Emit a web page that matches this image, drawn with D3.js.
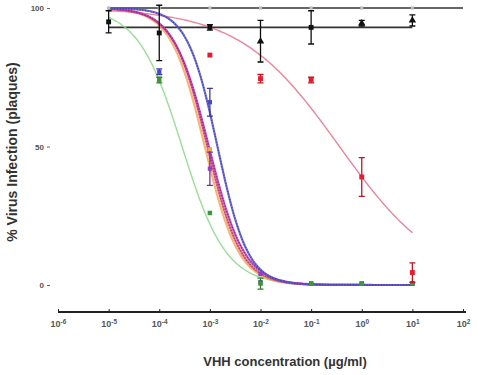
<html>
<head>
<meta charset="utf-8" />
<script src="https://d3js.org/d3.v7.min.js"></script>
<style>
    body { margin: 0; background: #fff; font-family: Arial, "Liberation Sans", sans-serif; }
    .axis text { font-weight: bold; fill: #555; }
</style>
</head>
<body>
<svg id="chart" width="477" height="375"></svg>
<script>
    // concentrations (ug/ml) of the dilution series
    const conc = [1e-5, 1e-4, 1e-3, 1e-2, 1e-1, 1, 10]
    const xTicks = [-6, -5, -4, -3, -2, -1, 0, 1, 2]
    const yTicks = [0, 50, 100]

    // measured % infection per series (null = no visible marker)
    const redVals = [null, null, 83, 74.5, 74, 39, 4.5]
    const redErr = [0, 0, 0, 1.5, 1, 7, 3.5]
    const greenVals = [null, 74, 26, 0.5, 0.5, 0.5, 0.5]
    const greenErr = [0, 1, 0, 2, 0, 0, 0]
    const blueVals = [null, 77, 66, 1, 0.5, 0.5, 0.5]
    const blueErr = [0, 1, 5, 0, 0, 0, 0]
    const purpleVals = [null, null, 42, 4, 0.5, 0.5, 0.5]
    const purpleErr = [0, 0, 6, 0, 0, 0, 0]
    const orangeVals = [null, null, 49, 1, 0.5, 0.5, 0.5]
    const blackSqVals = [95, 91, 93, null, 93, null, null]
    const blackSqErr = [4, 10, 1, 0, 6, 0, 0]
    const blackTriVals = [null, null, null, 88, null, 94.5, 95.5]
    const blackTriErr = [0, 0, 0, 7.5, 0, 1, 2]
    const topVals = [100, 100, 100, 100, 100, 100, 100]

    // fitted curves: [top, bottom, logEC50, hill, logStart, logEnd]
    const redFit = [100, 0, -0.44, 0.44, -5, 1]
    const greenFit = [100, 0, -3.55, 1.0, -5, 1]
    const blueFit = [100, 0, -2.85, 1.45, -5, 1]
    const purpleFit = [100, 0, -3.02, 1.25, -5, 1]
    const pinkFit = [100, 0, -3.05, 1.3, -5, 1]
    const orangeFit = [100, 0, -3.1, 1.3, -5, 1]
    const flatFits = [[100, -5, 2], [93, -5, 1]]

    const svg = d3.select("svg#chart")
    const x = d3.scaleLog().domain([1e-6, 1e2]).range([58, 463])
    const y = d3.scaleLinear().domain([0, 100]).range([285, 8])

    // x axis
    const xAxis = svg.append("g").attr("class", "axis")
        .attr("transform", "translate(0,312)")
        .call(d3.axisBottom(x).tickValues(xTicks.map(d => Math.pow(10, d)))
            .tickSize(-3).tickSizeOuter(0).tickFormat(""))
    xAxis.select(".domain").attr("stroke", "#222").attr("stroke-width", 2)
        .attr("d", "M58,0H466")
    xAxis.selectAll(".tick line").attr("stroke", "#222")
    xAxis.selectAll(".tick").append("text")
        .attr("y", 15).attr("fill", "#444").attr("text-anchor", "middle")
        .style("font-size", "9px")
        .each(function (d) {
            const t = d3.select(this)
            t.append("tspan").text("10")
            t.append("tspan").attr("dy", -3).style("font-size", "6.5px")
                .text(Math.round(Math.log10(d)))
        })

    // y axis
    const yAxis = svg.append("g").attr("class", "axis")
        .attr("transform", "translate(50,0)")
        .call(d3.axisLeft(y).tickValues(yTicks).tickSize(3))
    yAxis.select(".domain").remove()
    yAxis.selectAll(".tick line").attr("stroke", "#666")
    yAxis.selectAll(".tick text").style("font-size", "8px")

    // titles
    svg.append("text").attr("x", 285).attr("y", 366)
        .attr("text-anchor", "middle").style("font-size", "13px").style("font-weight", "bold")
        .attr("fill", "#333").text("VHH concentration (µg/ml)")
    svg.append("text").attr("transform", "translate(17,152) rotate(-90)")
        .attr("text-anchor", "middle").style("font-size", "14px").style("font-weight", "bold")
        .attr("fill", "#333").text("% Virus Infection (plaques)")

    const plot = svg.append("g")

    // flat fits (black)
    plot.selectAll("line.flat").data(flatFits).join("line").attr("class", "flat")
        .attr("x1", d => x(Math.pow(10, d[1]))).attr("x2", d => x(Math.pow(10, d[2])))
        .attr("y1", d => y(d[0])).attr("y2", d => y(d[0]))
        .attr("stroke", "#333").attr("stroke-width", 1.6)

    const curve = d3.line().x(d => x(Math.pow(10, d[0]))).y(d => y(d[1])).curve(d3.curveBasis)
    const fitPath = f => {
        const pts = []
        for (let l = f[4]; l <= f[5] + 1e-9; l += 0.05) {
            pts.push([l, f[1] + (f[0] - f[1]) / (1 + Math.pow(10, (l - f[2]) * f[3]))])
        }
        return curve(pts)
    }
    const fits = [
        [redFit, "#e8708a", 1.4, null],
        [greenFit, "#88d888", 1.4, null],
        [orangeFit, "#f2a860", 2.2, null],
        [pinkFit, "#e25c7c", 2.2, "1.2,1.6"],
        [purpleFit, "#c23ab8", 2.2, "1.2,1.6"],
        [blueFit, "#5a5ad8", 2.2, "1.2,1.6"]
    ]
    fits.forEach(f => {
        plot.append("path").attr("d", fitPath(f[0])).attr("fill", "none")
            .attr("stroke", f[1]).attr("stroke-width", f[2]).attr("opacity", 0.85)
        if (f[3]) {
            plot.append("path").attr("d", fitPath(f[0])).attr("fill", "none")
                .attr("stroke", d3.color(f[1]).darker(1.2)).attr("stroke-width", 1.4)
                .attr("stroke-dasharray", f[3]).attr("opacity", 0.8)
        }
    })

    // markers with error bars
    const drawSeries = (vals, errs, color, shape, size) => {
        const pts = conc.map((c, i) => ({ c: c, v: vals[i], e: errs ? errs[i] : 0 }))
            .filter(d => d.v !== null)
        const g = plot.append("g")
        g.selectAll("line.err").data(pts.filter(d => d.e > 0)).join("line")
            .attr("x1", d => x(d.c)).attr("x2", d => x(d.c))
            .attr("y1", d => y(d.v + d.e)).attr("y2", d => y(d.v - d.e))
            .attr("stroke", d3.color(color).darker(0.6)).attr("stroke-width", 1.3)
        g.selectAll("path.cap").data(pts.filter(d => d.e > 0)).join("path")
            .attr("d", d => `M${x(d.c) - 3},${y(d.v + d.e)}h6M${x(d.c) - 3},${y(d.v - d.e)}h6`)
            .attr("stroke", d3.color(color).darker(0.6)).attr("stroke-width", 1.3)
        g.selectAll("path.pt").data(pts).join("path")
            .attr("transform", d => `translate(${x(d.c)},${y(d.v)})`)
            .attr("d", d3.symbol().type(shape).size(size))
            .attr("fill", color)
    }
    drawSeries(topVals, null, "#bbbbbb", d3.symbolSquare, 10)
    drawSeries(orangeVals, null, "#f0a050", d3.symbolSquare, 18)
    drawSeries(purpleVals, purpleErr, "#9a3ac8", d3.symbolSquare, 18)
    drawSeries(blueVals, blueErr, "#4848c8", d3.symbolSquare, 18)
    drawSeries(greenVals, greenErr, "#3a9a3a", d3.symbolSquare, 20)
    drawSeries(redVals, redErr, "#e81c2c", d3.symbolSquare, 24)
    drawSeries(blackSqVals, blackSqErr, "#111", d3.symbolSquare, 24)
    drawSeries(blackTriVals, blackTriErr, "#111", d3.symbolTriangle, 24)
</script>
</body>
</html>
